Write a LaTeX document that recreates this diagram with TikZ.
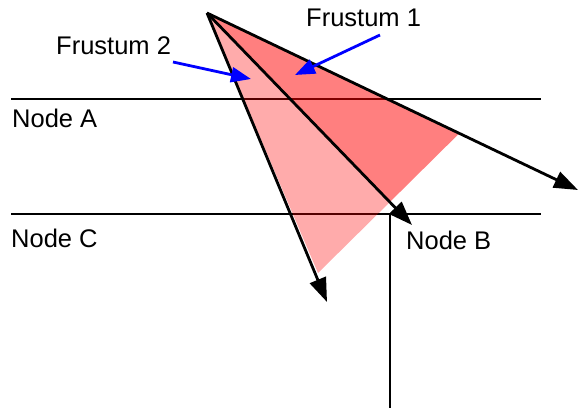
\documentclass[tikz,border=0pt]{standalone}
\usepackage{fontspec}
\setmainfont{Liberation Sans}
\usetikzlibrary{arrows.meta,calc}
\tikzset{
  ray/.style={line width=2.8pt,-{Triangle[length=24pt,width=17pt]}},
  hline/.style={line width=2.4pt},
  pointer/.style={blue,line width=2.8pt,-{Triangle[length=20pt,width=15pt]}},
  lbl/.style={font=\fontsize{25.5}{30}\selectfont,inner sep=0pt},
}
\begin{document}
\begin{tikzpicture}[x=1pt,y=-1pt]
\useasboundingbox (0,0) rectangle (579,411);
\coordinate (apex) at (207,13);
\coordinate (tipA) at (578,190);
\coordinate (tipB) at (412,225);
\coordinate (tipC) at (327,302);
\coordinate (p1) at ($(apex)!0.68!(tipA)$);
\coordinate (p2) at (318,273);
\coordinate (m) at (intersection of p1--p2 and apex--tipB);
% horizontal and vertical lines
\coordinate (a1) at (11,99); \coordinate (a2) at (541,99);
\coordinate (c1) at (11,214); \coordinate (c2) at (541,214);
\coordinate (v1) at (390,214); \coordinate (v2) at (390,408);
\draw[hline] (a1) -- (a2);
\draw[hline] (c1) -- (c2);
\draw[hline] (v1) -- (v2);
% frustum fills
\fill[red,opacity=0.33] (apex) -- (m) -- (p2) -- cycle;
\fill[red,opacity=0.5] (apex) -- (p1) -- (m) -- cycle;
% rays
\draw[ray] (apex) -- (tipA);
\draw[ray] (apex) -- (tipB);
\draw[ray] (apex) -- (tipC);
% labels
\node[lbl,anchor=west] (f1) at (306,18) {Frustum 1};
\node[lbl,anchor=west] (f2) at (56,46) {Frustum 2};
\node[lbl,anchor=west] (na) at (12,118) {Node A};
\node[lbl,anchor=west] (nc) at (11,238) {Node C};
\node[lbl,anchor=west] (nb) at (406,240) {Node B};
% pointers
\coordinate (s1) at (380,35); \coordinate (t1) at (295,75);
\coordinate (s2) at (173,62); \coordinate (t2) at (251,79);
\draw[pointer] (s1) -- (t1);
\draw[pointer] (s2) -- (t2);
\end{tikzpicture}
\end{document}
